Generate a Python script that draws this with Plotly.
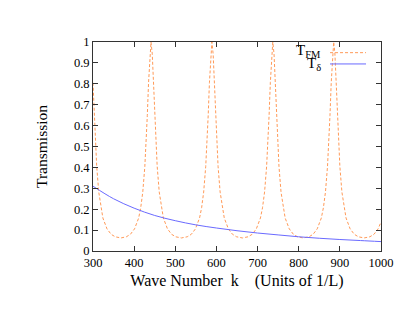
import plotly.graph_objects as go

# Blue curve T_delta
k_delta = [300, 350, 400, 450, 500, 550, 600, 650, 700, 750, 800, 850, 900, 950, 1000]
t_delta = [0.31, 0.25, 0.205, 0.17, 0.145, 0.125, 0.11, 0.097, 0.086, 0.077, 0.068, 0.061, 0.055, 0.05, 0.045]

# Orange curve T_FM
k_fm = [300, 303, 306, 309, 314, 319, 324, 334, 344, 354, 368,
        381, 391, 401, 411, 416, 421, 426, 429, 432, 435, 438, 441, 444, 447, 450, 453, 456, 461, 466, 471, 481, 491, 501, 515,
        529, 539, 549, 559, 564, 569, 574, 577, 580, 583, 586, 589, 592, 595, 598, 601, 604, 609, 614, 619, 629, 639, 649, 663,
        677, 687, 697, 707, 712, 717, 722, 725, 728, 731, 734, 737, 740, 743, 746, 749, 752, 757, 762, 767, 777, 787, 797, 811,
        825, 835, 845, 855, 860, 865, 870, 873, 876, 879, 882, 885, 888, 891, 894, 897, 900, 905, 910, 915, 925, 935, 945, 959,
        973, 983, 993, 1000]
t_fm = [0.805, 0.649, 0.512, 0.405, 0.282, 0.207, 0.158, 0.106, 0.080, 0.068, 0.0625,
        0.068, 0.080, 0.106, 0.158, 0.207, 0.282, 0.405, 0.512, 0.649, 0.805, 0.943, 1.0, 0.943, 0.805, 0.649, 0.512, 0.405, 0.282, 0.207, 0.158, 0.106, 0.080, 0.068, 0.0625,
        0.068, 0.080, 0.106, 0.158, 0.207, 0.282, 0.405, 0.512, 0.649, 0.805, 0.943, 1.0, 0.943, 0.805, 0.649, 0.512, 0.405, 0.282, 0.207, 0.158, 0.106, 0.080, 0.068, 0.0625,
        0.068, 0.080, 0.106, 0.158, 0.207, 0.282, 0.405, 0.512, 0.649, 0.805, 0.943, 1.0, 0.943, 0.805, 0.649, 0.512, 0.405, 0.282, 0.207, 0.158, 0.106, 0.080, 0.068, 0.0625,
        0.068, 0.080, 0.106, 0.158, 0.207, 0.282, 0.405, 0.512, 0.649, 0.805, 0.943, 1.0, 0.943, 0.805, 0.649, 0.512, 0.405, 0.282, 0.207, 0.158, 0.106, 0.080, 0.068, 0.0625,
        0.068, 0.080, 0.106, 0.139]

x_ticks = [300, 400, 500, 600, 700, 800, 900, 1000]
y_ticks = [0, 0.1, 0.2, 0.3, 0.4, 0.5, 0.6, 0.7, 0.8, 0.9, 1]
y_tick_labels = ["0", "0.1", "0.2", "0.3", "0.4", "0.5", "0.6", "0.7", "0.8", "0.9", "1"]

ORANGE = "#ff9a58"
BLUE = "#6a6aff"
FONT = "Liberation Serif, Times New Roman, serif"

fig = go.Figure()
fig.add_trace(go.Scatter(x=k_fm, y=t_fm, mode="lines",
                         line=dict(color=ORANGE, width=1, dash="3px,2px"), name="T_FM"))
fig.add_trace(go.Scatter(x=k_delta, y=t_delta, mode="lines", line_shape="spline",
                         line=dict(color=BLUE, width=1), name="T_delta"))

axis_common = dict(showgrid=False, zeroline=False, showline=True, linecolor="#333",
                   linewidth=1, mirror="ticks", ticks="inside", ticklen=5, tickcolor="#333",
                   tickfont=dict(family=FONT, size=12.5, color="black"))

fig.update_xaxes(range=[300, 1000], tickvals=x_ticks, **axis_common,
                 title=dict(text="Wave Number  k    (Units of 1/L)",
                            font=dict(family=FONT, size=16, color="black"), standoff=5))
fig.update_yaxes(range=[0, 1], tickvals=y_ticks, ticktext=y_tick_labels, **axis_common,
                 title=dict(text="Transmission", font=dict(family=FONT, size=15.5, color="black"), standoff=22))

# legend keys (gnuplot style: text left, sample right)
fig.add_annotation(xref="paper", yref="paper", x=0.80, y=0.955, xanchor="right", yanchor="middle",
                   text="T<sub>FM</sub>", showarrow=False, font=dict(family=FONT, size=15, color="black"))
fig.add_annotation(xref="paper", yref="paper", x=0.80, y=0.895, xanchor="right", yanchor="middle",
                   text="T<sub>δ</sub>", showarrow=False, font=dict(family=FONT, size=15, color="black"))
fig.add_shape(type="line", xref="paper", yref="paper", x0=0.823, x1=0.948, y0=0.949, y1=0.949,
              line=dict(color=ORANGE, width=1, dash="3px,2px"))
fig.add_shape(type="line", xref="paper", yref="paper", x0=0.823, x1=0.948, y0=0.895, y1=0.895,
              line=dict(color=BLUE, width=1))

fig.update_layout(width=415, height=321, margin=dict(l=85, r=42, t=34, b=78),
                  paper_bgcolor="white", plot_bgcolor="white", showlegend=False)

fig.write_html("out.html")
